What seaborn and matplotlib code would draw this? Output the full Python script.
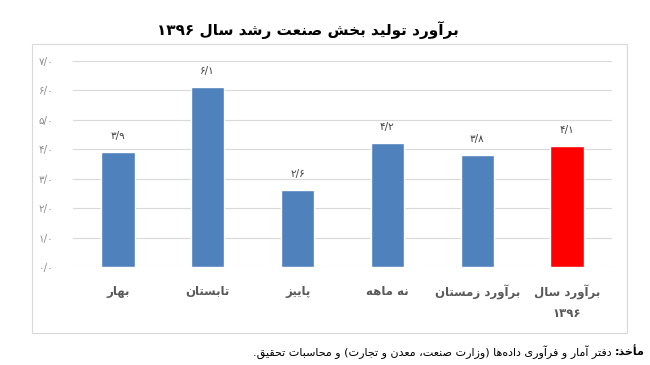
import re
import matplotlib
matplotlib.use("Agg")
import matplotlib.pyplot as plt
import seaborn as sns
import pandas as pd

# ---------------- data ----------------
title = "برآورد تولید بخش صنعت رشد سال ۱۳۹۶"
categories = ["بهار", "تابستان", "پاییز", "نه ماهه", "برآورد زمستان", "برآورد سال\n۱۳۹۶"]
values = [3.9, 6.1, 2.6, 4.2, 3.8, 4.1]
bar_colors = ["#4F81BD", "#4F81BD", "#4F81BD", "#4F81BD", "#4F81BD", "#FF0000"]
y_ticks = [0, 1, 2, 3, 4, 5, 6, 7]
source_bold = "مأخذ:"
source_text = "دفتر آمار و فرآوری داده\u200cها (وزارت صنعت، معدن و تجارت) و محاسبات تحقیق."

# ---------------- minimal Arabic/Persian shaping ----------------
FORMS = {
    'آ': ('\uFE81', '\uFE82', None, None),
    'أ': ('\uFE83', '\uFE84', None, None),
    'ؤ': ('\uFE85', '\uFE86', None, None),
    'ا': ('\uFE8D', '\uFE8E', None, None),
    'ب': ('\uFE8F', '\uFE90', '\uFE91', '\uFE92'),
    'ة': ('\uFE93', '\uFE94', None, None),
    'ت': ('\uFE95', '\uFE96', '\uFE97', '\uFE98'),
    'ث': ('\uFE99', '\uFE9A', '\uFE9B', '\uFE9C'),
    'ج': ('\uFE9D', '\uFE9E', '\uFE9F', '\uFEA0'),
    'ح': ('\uFEA1', '\uFEA2', '\uFEA3', '\uFEA4'),
    'خ': ('\uFEA5', '\uFEA6', '\uFEA7', '\uFEA8'),
    'د': ('\uFEA9', '\uFEAA', None, None),
    'ذ': ('\uFEAB', '\uFEAC', None, None),
    'ر': ('\uFEAD', '\uFEAE', None, None),
    'ز': ('\uFEAF', '\uFEB0', None, None),
    'س': ('\uFEB1', '\uFEB2', '\uFEB3', '\uFEB4'),
    'ش': ('\uFEB5', '\uFEB6', '\uFEB7', '\uFEB8'),
    'ص': ('\uFEB9', '\uFEBA', '\uFEBB', '\uFEBC'),
    'ض': ('\uFEBD', '\uFEBE', '\uFEBF', '\uFEC0'),
    'ط': ('\uFEC1', '\uFEC2', '\uFEC3', '\uFEC4'),
    'ظ': ('\uFEC5', '\uFEC6', '\uFEC7', '\uFEC8'),
    'ع': ('\uFEC9', '\uFECA', '\uFECB', '\uFECC'),
    'غ': ('\uFECD', '\uFECE', '\uFECF', '\uFED0'),
    'ف': ('\uFED1', '\uFED2', '\uFED3', '\uFED4'),
    'ق': ('\uFED5', '\uFED6', '\uFED7', '\uFED8'),
    'ل': ('\uFEDD', '\uFEDE', '\uFEDF', '\uFEE0'),
    'م': ('\uFEE1', '\uFEE2', '\uFEE3', '\uFEE4'),
    'ن': ('\uFEE5', '\uFEE6', '\uFEE7', '\uFEE8'),
    'ه': ('\uFEE9', '\uFEEA', '\uFEEB', '\uFEEC'),
    'و': ('\uFEED', '\uFEEE', None, None),
    'پ': ('\uFB56', '\uFB57', '\uFB58', '\uFB59'),
    'چ': ('\uFB7A', '\uFB7B', '\uFB7C', '\uFB7D'),
    'ژ': ('\uFB8A', '\uFB8B', None, None),
    'ک': ('\uFB8E', '\uFB8F', '\uFB90', '\uFB91'),
    'گ': ('\uFB92', '\uFB93', '\uFB94', '\uFB95'),
    'ی': ('\uFBFC', '\uFBFD', '\uFEF3', '\uFEF4'),
}


def shape(s):
    out = []
    for i, ch in enumerate(s):
        if ch not in FORMS:
            out.append(ch)
            continue
        prev = s[i - 1] if i > 0 else None
        nxt = s[i + 1] if i + 1 < len(s) else None
        jp = prev in FORMS and FORMS[prev][2] is not None
        jn = FORMS[ch][2] is not None and nxt in FORMS
        iso, fin, ini, med = FORMS[ch]
        if jp and jn:
            g = med
        elif jp:
            g = fin
        elif jn:
            g = ini
        else:
            g = iso
        out.append(g)
    return "".join(out).replace('\u200c', '')


MIRROR = {'(': ')', ')': '('}


def visual(s):
    tokens = re.findall(r'[0-9\u06F0-\u06F9]+|.', s)
    tokens = [MIRROR.get(t, t) for t in tokens[::-1]]
    return "".join(tokens)


def fa(s):
    return "\n".join(visual(shape(line)) for line in s.split("\n"))


def fa_num(v):
    d = "۰۱۲۳۴۵۶۷۸۹"
    txt = f"{v:.1f}".replace(".", "/")
    return "".join(d[int(c)] if c.isdigit() else c for c in txt)


# ---------------- plot ----------------
sns.set_theme(style="white")
plt.rcParams['font.family'] = ['DejaVu Sans']

fig = plt.figure(figsize=(6.5, 3.65), dpi=100)
ax = fig.add_axes([73 / 650, 98 / 365, 539 / 650, 206 / 365])

labels_vis = [fa(c) for c in categories]
df = pd.DataFrame({"cat": labels_vis, "val": values})
sns.barplot(data=df, x="cat", y="val", hue="cat", palette=bar_colors,
            legend=False, width=0.37, ax=ax, saturation=1)

ax.set_ylim(0, 7)
ax.set_xlim(-0.5, len(categories) - 0.5)
ax.set_yticks(y_ticks)
ax.set_yticklabels([fa_num(t) for t in y_ticks], color="#8c8c8c", fontsize=7.5)
ax.tick_params(axis="y", length=0, pad=14)
ax.tick_params(axis="x", length=0, pad=13)
ax.set_xticks(range(len(categories)))
ax.set_xticklabels(labels_vis, fontsize=8.5, fontweight="bold", color="#595959",
                   linespacing=1.7, va="top")
ax.set_xlabel("")
ax.set_ylabel("")
ax.yaxis.grid(True, color="#d9d9d9", linewidth=0.8)
ax.set_axisbelow(True)
for sp in ax.spines.values():
    sp.set_visible(False)

for cont in ax.containers:
    ax.bar_label(cont, labels=[fa_num(b.get_height()) for b in cont],
                 padding=8, fontsize=7.5, color="#404040")

# outer chart border
fig.patches.append(plt.Rectangle((32 / 650, 1 - 333 / 365), 595 / 650, 289 / 365,
                                 transform=fig.transFigure, fill=False,
                                 edgecolor="#d9d9d9", linewidth=0.8))

fig.text(308 / 650, 1 - 30 / 365, fa(title), ha="center", va="center",
         fontsize=11, fontweight="bold", color="#000000")

bt = fig.text(645 / 650, 1 - 352 / 365, fa(source_bold), ha="right", va="center",
              fontsize=8, fontweight="bold", color="#000000")
ax.annotate(fa(source_text) + " ", xy=(0, 0.5), xycoords=bt, ha="right", va="center",
            fontsize=8, color="#000000", annotation_clip=False)

fig.savefig("out.png", dpi=100)
